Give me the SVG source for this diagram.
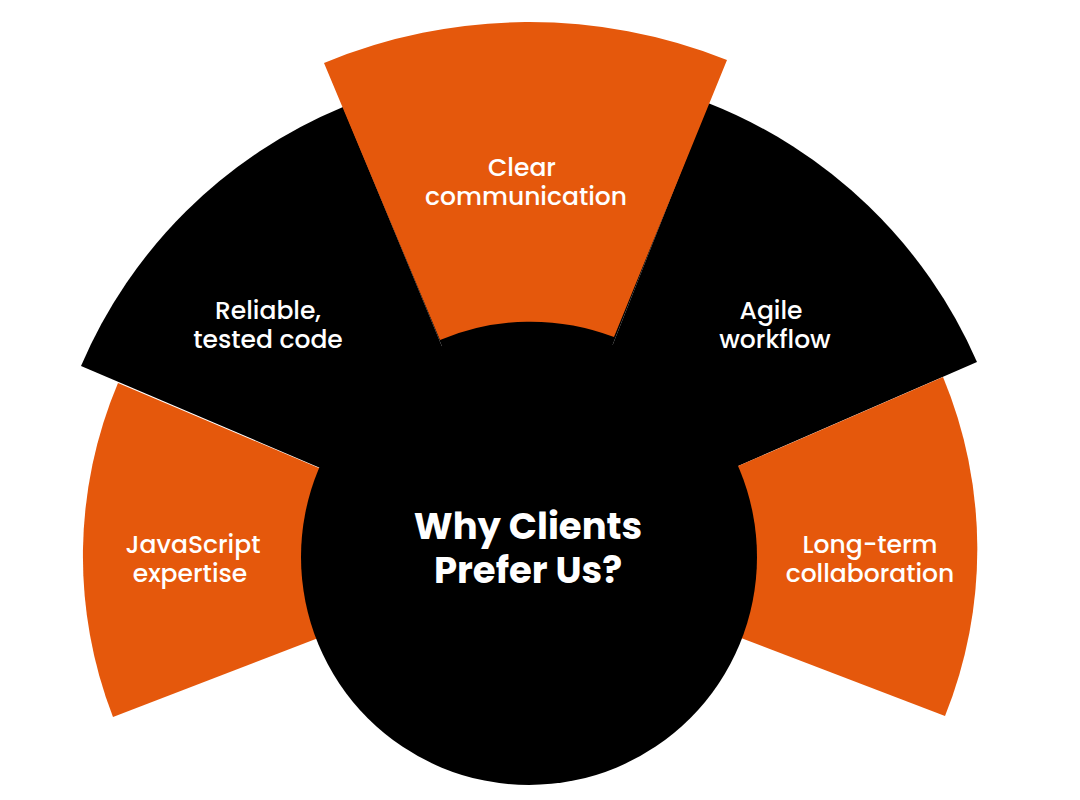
<svg xmlns="http://www.w3.org/2000/svg" width="1080" height="800" viewBox="0 0 1080 800">
<style>
.o{fill:#e5580c}.b{fill:#000}
.t{fill:#fff;font-family:Poppins,Inter,"Open Sans",sans-serif;font-size:25px;font-weight:500;text-anchor:middle;dominant-baseline:central}
.c{font-size:37px;font-weight:700}
</style>
<rect width="1080" height="800" fill="#fff"/>
<g id="reliable"><path class="b" d="M81,366 A487,487 0 0 1 343,107 L529,557 Z"/></g>
<g id="agile"><path class="b" d="M708,103 A488,488 0 0 1 977,362 L529,557 Z"/></g>
<path class="b" d="M529,557 L343,107 L708,103 Z"/>
<g id="javascript"><path class="o" d="M118,383 A445,445 0 0 0 113,717 L529,557 Z"/></g>
<g id="longterm"><path class="o" d="M943,377 A448,448 0 0 1 945,716 L529,557 Z"/></g>
<g id="clear"><path class="o" d="M324,63 A535,535 0 0 1 727,60 L614,337 A234,234 0 0 0 440,340 Z"/></g>
<g id="center"><circle class="b" cx="529" cy="557" r="228"/>
<text class="t c" x="528" y="526">Why Clients</text><text class="t c" x="528" y="570">Prefer Us?</text></g>
<g id="labels">
<text class="t" x="522" y="167">Clear</text><text class="t" x="526" y="196">communication</text>
<text class="t" x="268" y="310">Reliable,</text><text class="t" x="268" y="339">tested code</text>
<text class="t" x="771" y="310">Agile</text><text class="t" x="775" y="339">workflow</text>
<text class="t" x="193" y="544">JavaScript</text><text class="t" x="190" y="573">expertise</text>
<text class="t" x="870" y="544">Long-term</text><text class="t" x="870" y="573">collaboration</text>
</g>
<g id="connectors"/>
</svg>
